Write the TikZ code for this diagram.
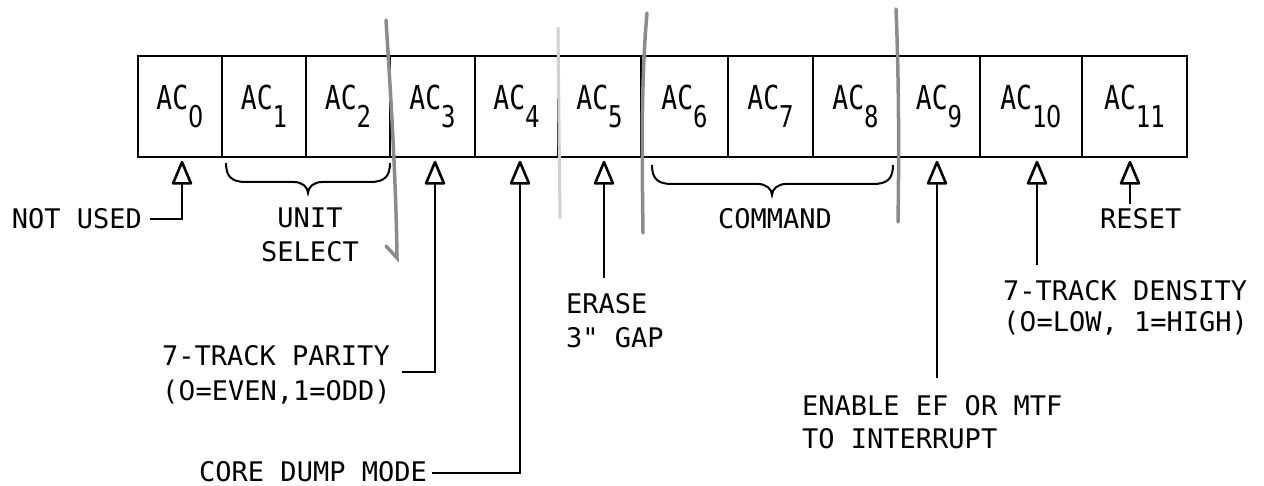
\documentclass[tikz,border=0pt]{standalone}
\usepackage{fontspec}
\newfontfamily\twf{DejaVu Sans Mono}
\newfontfamily\zf{DejaVu Sans}
\newfontfamily\acf[FakeStretch=0.8]{DejaVu Sans Mono}
\newfontfamily\aczf[FakeStretch=0.8]{DejaVu Sans}
\usetikzlibrary{arrows.meta}
\newcommand{\zr}{{\zf 0}}
\newcommand{\acreg}[1]{{\acf\fontsize{33}{33}\selectfont AC\lower18pt\hbox{\fontsize{30}{30}\selectfont #1}}}
\begin{document}
\begin{tikzpicture}[x=1pt,y=-1pt,
  cell/.style={draw, line width=1.6pt, minimum height=101pt, inner sep=0pt, anchor=center},
  lbl/.style={font=\twf\fontsize{27}{33}\selectfont, inner sep=0pt, align=left},
  lead/.style={line width=1.4pt},
  ptr/.style={lead, -{Triangle[open, length=26pt, width=21pt, line width=2.6pt, round]}, shorten >=3pt},
  pencil/.style={draw=black!45, line width=3.5pt, line cap=round},
  brc/.style={line width=2pt}]
\useasboundingbox (0,0) rectangle (1264,486);
\fill[white] (0,0) rectangle (1264,486);

% register cells
\node[cell, minimum width=84pt]  (c0)  at (180,106.5)   {\acreg{{\aczf 0}}};
\node[cell, minimum width=84pt]  (c1)  at (264,106.5)   {\acreg{1}};
\node[cell, minimum width=84pt]  (c2)  at (348,106.5)   {\acreg{2}};
\node[cell, minimum width=85pt]  (c3)  at (432.5,106.5) {\acreg{3}};
\node[cell, minimum width=83pt]  (c4)  at (516.5,106.5) {\acreg{4}};
\node[cell, minimum width=83pt]  (c5)  at (599.5,106.5) {\acreg{5}};
\node[cell, minimum width=87pt]  (c6)  at (684.5,106.5) {\acreg{6}};
\node[cell, minimum width=85pt]  (c7)  at (770.5,106.5) {\acreg{7}};
\node[cell, minimum width=85pt]  (c8)  at (855.5,106.5) {\acreg{8}};
\node[cell, minimum width=82pt]  (c9)  at (939,106.5)   {\acreg{9}};
\node[cell, minimum width=102pt] (c10) at (1031,106.5)  {\acreg{1{\aczf 0}}};
\node[cell, minimum width=105pt] (c11) at (1134.5,106.5){\acreg{11}};

% pencil group marks
\draw[pencil] (386,20) .. controls (391,100) and (396,180) .. (397,258) -- (386,246);
\draw[pencil, draw=black!18, line width=3pt] (558,28) -- (560,218);
\draw[pencil] (647,13) .. controls (641,80) and (642,160) .. (643,233);
\draw[pencil] (896,9) .. controls (899,80) and (899,160) .. (898,222);

% braces
\draw[brc] (226,163) .. controls (226,177) and (232,182) .. (246,182) -- (294,182)
  .. controls (302,182) and (308,187) .. (308,193) .. controls (308,187) and (314,182) .. (322,182)
  -- (370,182) .. controls (384,182) and (390,177) .. (390,163);
\draw[brc] (652,165) .. controls (652,179) and (658,184) .. (672,184) -- (758,184)
  .. controls (766,184) and (772,189) .. (772,195) .. controls (772,189) and (778,184) .. (786,184)
  -- (873,184) .. controls (887,184) and (893,179) .. (893,165);

% labels
\node[lbl, anchor=east] (nu) at (142,219) {NOT USED};
\node[lbl, align=center, font=\twf\fontsize{27}{34}\selectfont] (us) at (310,235) {UNIT\\SELECT};
\node[lbl, anchor=west] (cmd) at (718,219) {COMMAND};
\node[lbl, anchor=west] (rst) at (1100,219) {RESET};
\node[lbl, anchor=north west, font=\twf\fontsize{27}{34}\selectfont] (er) at (566,293) {ERASE\\3" GAP};
\node[lbl, anchor=north west, font=\twf\fontsize{27}{31}\selectfont] (den) at (1003,280) {7-TRACK DENSITY\\(\zr=LOW, 1=HIGH)};
\node[lbl, anchor=north west, font=\twf\fontsize{27}{35}\selectfont] (par) at (162,345) {7-TRACK PARITY\\(\zr=EVEN,1=ODD)};
\node[lbl, anchor=north west] (en) at (802,395) {ENABLE EF OR MTF\\TO INTERRUPT};
\node[lbl, anchor=east] (cdm) at (427,472) {CORE DUMP MODE};

% connectors
\coordinate (p3) at (402,372);
\coordinate (p4) at (432,473);
\coordinate (p5) at (604,278);
\coordinate (p9) at (937,378);
\coordinate (p10) at (1037,265);
\coordinate (p11) at (1130,204);
\draw[ptr] ([xshift=8pt]nu.east) -| ([xshift=2pt]c0.south);
\draw[ptr] (p3) -| ([xshift=2.5pt]c3.south);
\draw[ptr] (p4) -| ([xshift=3.5pt]c4.south);
\draw[ptr] (p5) -- (p5 |- c5.south);
\draw[ptr] (p9) -- (p9 |- c9.south);
\draw[ptr] (p10) -- (p10 |- c10.south);
\draw[ptr] (p11) -- (p11 |- c11.south);
\end{tikzpicture}
\end{document}
